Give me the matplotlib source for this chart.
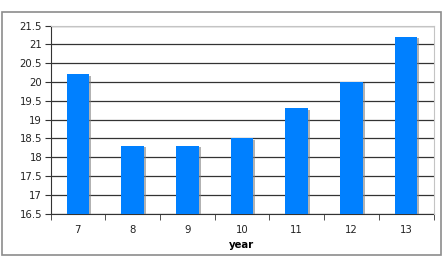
import matplotlib
matplotlib.use("Agg")
import matplotlib.pyplot as plt
import matplotlib.patheffects as pe
import numpy as np

years = ["7", "8", "9", "10", "11", "12", "13"]
values = [20.2, 18.3, 18.3, 18.5, 19.3, 20.0, 21.2]
y_ticks = [16.5, 17, 17.5, 18, 18.5, 19, 19.5, 20, 20.5, 21, 21.5]
y_labels = ["16.5", "17", "17.5", "18", "18.5", "19", "19.5", "20", "20.5", "21", "21.5"]

fig = plt.figure(figsize=(4.43, 2.56), dpi=100)
ax = fig.add_axes([50.5 / 443, 1 - 213.5 / 256, 383 / 443, 188 / 256])

# outer frame around the whole chart
fig.patches.append(plt.Rectangle((1.5 / 443, 1.5 / 256), 439.5 / 443, 243 / 256,
                                 transform=fig.transFigure, fill=False,
                                 edgecolor="#8c8c8c", linewidth=1.2))

x = np.arange(len(years))
bars = ax.bar(x, np.array(values) - 16.5, bottom=16.5, width=0.41, color="#0080ff",
              zorder=3)
for b in bars:
    b.set_path_effects([pe.SimplePatchShadow(offset=(1.5, -1), shadow_rgbFace="#808080",
                                             alpha=0.6), pe.Normal()])

ax.set_xlim(-0.5, len(years) - 0.5)
ax.set_ylim(16.5, 21.5)
ax.set_yticks(y_ticks)
ax.set_yticklabels(y_labels)
ax.yaxis.grid(True, color="#333333", linewidth=0.9, zorder=0)
ax.set_axisbelow(True)

# category labels in the middle, tick marks at boundaries
ax.set_xticks(x)
ax.set_xticklabels(years)
ax.tick_params(axis="x", which="major", length=0, pad=8)
ax.set_xticks(np.arange(-0.5, len(years) + 0.5, 1), minor=True)
ax.tick_params(axis="x", which="minor", length=4, direction="out", color="#333333")
ax.tick_params(axis="y", length=4, direction="out", color="#333333", pad=2)
ax.tick_params(labelsize=7.3, labelcolor="#222222")

for side in ["top", "right"]:
    ax.spines[side].set_color("#c4c4c4")
    ax.spines[side].set_zorder(4)
ax.spines["left"].set_color("#333333")
ax.spines["bottom"].set_color("#333333")

ax.set_xlabel("year", fontsize=7.3, fontweight="bold", labelpad=4)

fig.savefig("out.png", dpi=100)
